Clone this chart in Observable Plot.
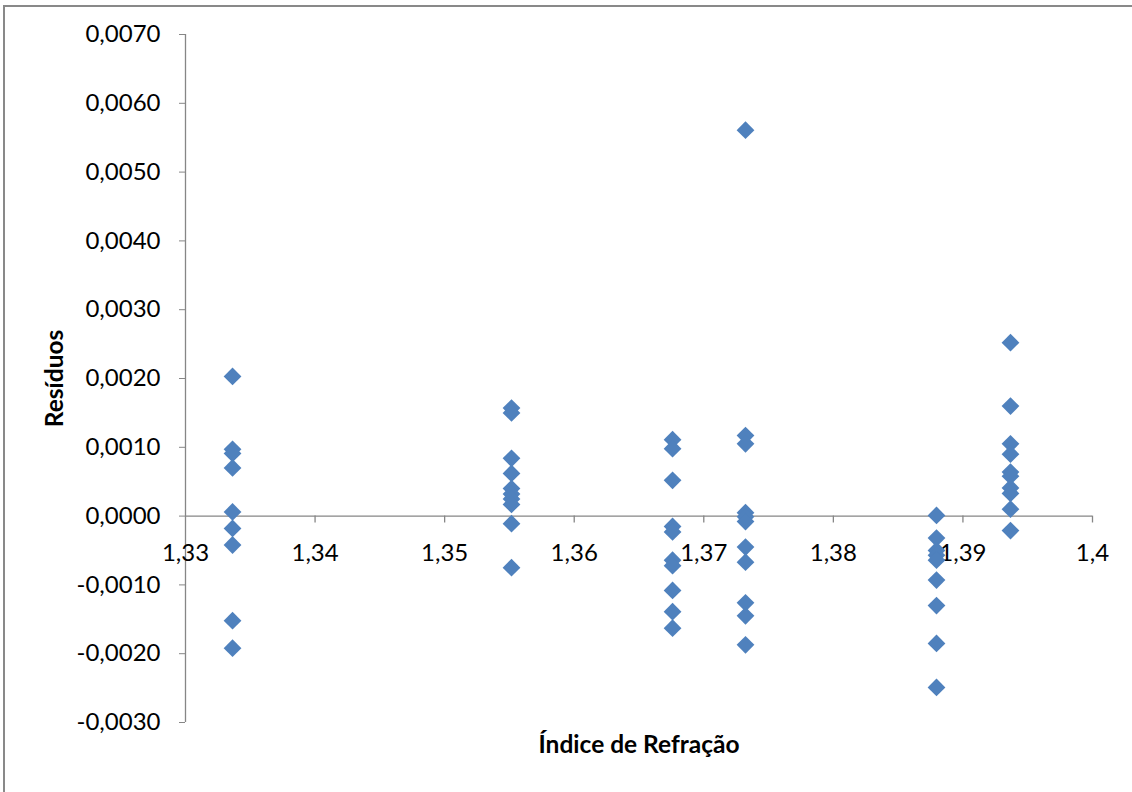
<!DOCTYPE html>
<html><head><meta charset="utf-8">
<script src="https://cdn.jsdelivr.net/npm/d3@7"></script>
<script src="https://cdn.jsdelivr.net/npm/@observablehq/plot@0.6"></script>
<style>
body{margin:0;background:#fff;overflow:hidden}
#chart{position:absolute;left:0;top:0}
#frame{position:absolute;left:3px;top:5px;width:1200px;height:900px;border:2px solid #898989;pointer-events:none}
</style></head><body><div id="chart"></div><div id="frame"></div>
<script>
// Índice de refração of each sample group
const indices = [1.33363, 1.35516, 1.36759, 1.37322, 1.38796, 1.39367];
// Residuals per group
const res1 = [0.00203, 0.00097, 0.00091, 0.00070, 0.00006, -0.00018, -0.00042, -0.00152, -0.00192];
const res2 = [0.00157, 0.00150, 0.00084, 0.00062, 0.00040, 0.00032, 0.00025, 0.00017, -0.00011, -0.00075];
const res3 = [0.00111, 0.00098, 0.00052, -0.00015, -0.00023, -0.00064, -0.00072, -0.00108, -0.00139, -0.00163];
const res4 = [0.00561, 0.00117, 0.00105, 0.00005, -0.00001, -0.00008, -0.00045, -0.00067, -0.00126, -0.00145, -0.00187];
const res5 = [0.00001, -0.00032, -0.00050, -0.00057, -0.00064, -0.00093, -0.00130, -0.00185, -0.00249];
const res6 = [0.00252, 0.00160, 0.00105, 0.00090, 0.00064, 0.00058, 0.00041, 0.00033, 0.00010, -0.00021];
const xTicks = [1.33, 1.34, 1.35, 1.36, 1.37, 1.38, 1.39, 1.4];
const yTicks = [-0.003, -0.002, -0.001, 0, 0.001, 0.002, 0.003, 0.004, 0.005, 0.006, 0.007];
const xTitle = "Índice de Refração";
const yTitle = "Resíduos";

const groups = [res1, res2, res3, res4, res5, res6];
const points = groups.flatMap((g, i) => g.map(r => ({x: indices[i], y: r})));

const yFmt = d => d3.format(".4f")(d).replace("\u2212", "-").replace(".", ",");
const xFmt = d => String(+d.toFixed(2)).replace(".", ",");
const axisColor = "#868686";

const chart = Plot.plot({
  width: 1132, height: 792,
  marginLeft: 185, marginRight: 40, marginTop: 34, marginBottom: 70,
  style: {fontFamily: "Lato, 'Open Sans', sans-serif", fontSize: "24px", color: "#000", background: "transparent"},
  x: {domain: [1.33, 1.4], axis: null},
  y: {domain: [-0.003, 0.007]},
  marks: [
    Plot.ruleX([1.33], {stroke: axisColor, strokeWidth: 1.3}),
    Plot.ruleY([0], {stroke: axisColor, strokeWidth: 1.3}),
    Plot.ruleX(xTicks.slice(1), {x: d => d, y1: 0, y2: -0.0001, stroke: axisColor, strokeWidth: 1.3}),
    Plot.text(xTicks, {x: d => d, y: 0, dy: 37, text: xFmt, fill: "#000", fontSize: 24}),
    Plot.axisY({ticks: yTicks, tickFormat: yFmt, tickSize: 6, tickPadding: 19, stroke: axisColor, fill: "#000", label: null, fontSize: 24}),
    Plot.dot(points, {x: "x", y: "y", symbol: "diamond2", r: 8, fill: "#4F81BD", stroke: null}),
    Plot.text([xTitle], {frameAnchor: "bottom", dy: 23, lineAnchor: "middle", textAnchor: "middle", fontWeight: "bold", fontSize: 24.5, fill: "#000"}),
    Plot.text([yTitle], {frameAnchor: "left", dx: -130, rotate: -90, textAnchor: "middle", lineAnchor: "middle", fontWeight: "bold", fontSize: 24.5, fill: "#000"})
  ]
});
document.getElementById("chart").appendChild(chart);
</script></body></html>
